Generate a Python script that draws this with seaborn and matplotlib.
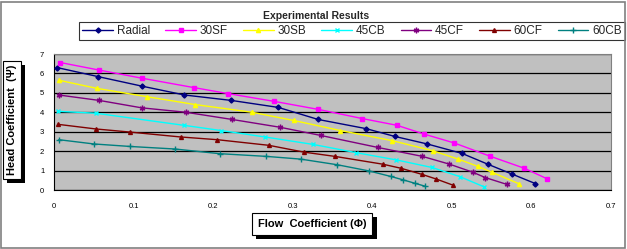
import matplotlib
matplotlib.use("Agg")
import matplotlib.pyplot as plt
import matplotlib.patheffects as pe
import seaborn as sns
import pandas as pd
from matplotlib.patches import Rectangle

# ---- data ----
series_names = ["Radial", "30SF", "30SB", "45CB", "45CF", "60CF", "60CB"]
radial_x = [0.004, 0.055, 0.11, 0.164, 0.223, 0.282, 0.332, 0.392, 0.428, 0.469, 0.513, 0.545, 0.575, 0.605]
radial_y = [6.3, 5.84, 5.35, 4.89, 4.61, 4.25, 3.63, 3.16, 2.76, 2.37, 1.88, 1.33, 0.83, 0.33]
sf30_x = [0.008, 0.057, 0.111, 0.176, 0.219, 0.277, 0.332, 0.387, 0.431, 0.465, 0.503, 0.548, 0.591, 0.619]
sf30_y = [6.56, 6.17, 5.75, 5.27, 4.96, 4.56, 4.15, 3.68, 3.33, 2.88, 2.42, 1.74, 1.12, 0.59]
sb30_x = [0.006, 0.054, 0.117, 0.177, 0.249, 0.301, 0.36, 0.425, 0.476, 0.508, 0.533, 0.55, 0.585]
sb30_y = [5.65, 5.23, 4.8, 4.4, 4.0, 3.58, 3.06, 2.54, 2.02, 1.59, 1.21, 0.92, 0.31]
cb45_x = [0.005, 0.053, 0.163, 0.21, 0.265, 0.325, 0.38, 0.43, 0.475, 0.51, 0.54]
cb45_y = [4.05, 3.95, 3.33, 3.06, 2.73, 2.35, 1.92, 1.55, 1.16, 0.69, 0.17]
cf45_x = [0.006, 0.057, 0.11, 0.166, 0.224, 0.284, 0.335, 0.407, 0.463, 0.497, 0.526, 0.542, 0.569]
cf45_y = [4.89, 4.61, 4.23, 4.0, 3.63, 3.23, 2.81, 2.19, 1.73, 1.33, 0.92, 0.64, 0.29]
cf60_x = [0.005, 0.053, 0.096, 0.159, 0.205, 0.27, 0.314, 0.353, 0.413, 0.436, 0.462, 0.48, 0.502]
cf60_y = [3.38, 3.14, 2.98, 2.73, 2.59, 2.3, 1.95, 1.73, 1.33, 1.12, 0.81, 0.57, 0.24]
cb60_x = [0.006, 0.05, 0.096, 0.152, 0.208, 0.267, 0.31, 0.356, 0.396, 0.423, 0.439, 0.454, 0.466]
cb60_y = [2.59, 2.37, 2.24, 2.11, 1.87, 1.73, 1.59, 1.3, 0.98, 0.7, 0.52, 0.34, 0.2]
x_ticks = [0, 0.1, 0.2, 0.3, 0.4, 0.5, 0.6, 0.7]
x_tick_labels = ["0", "0.1", "0.2", "0.3", "0.4", "0.5", "0.6", "0.7"]
y_ticks = [0, 1, 2, 3, 4, 5, 6, 7]

all_x = [radial_x, sf30_x, sb30_x, cb45_x, cf45_x, cf60_x, cb60_x]
all_y = [radial_y, sf30_y, sb30_y, cb45_y, cf45_y, cf60_y, cb60_y]
colors = ["#000080", "#FF00FF", "#FFFF00", "#00FFFF", "#800080", "#800000", "#008080"]
markers = ["D", "s", "^", "x", (6, 2, 0), "^", "+"]
msizes = [2.6, 3.0, 3.0, 3.5, 4.0, 2.8, 4.0]

sns.set_style("white")
plt.rcParams['font.family'] = ['Liberation Sans', 'DejaVu Sans']

fig = plt.figure(figsize=(6.27, 2.49), dpi=100)
W, H = 627, 249
ax = fig.add_axes([54 / W, 1 - 190 / H, (611 - 54) / W, (190 - 54) / H])
ax.set_facecolor("#C0C0C0")

for name, xs, ys, c, m, ms in zip(series_names, all_x, all_y, colors, markers, msizes):
    df = pd.DataFrame({"x": xs, "y": ys})
    sns.lineplot(data=df, x="x", y="y", ax=ax, color=c, marker=m, markersize=ms,
                 markeredgecolor=c, markeredgewidth=1.0, linewidth=1.0,
                 sort=False, estimator=None, label=name, zorder=3)

ax.set_xlim(0, 0.7)
ax.set_ylim(0, 7)
ax.set_xticks(x_ticks)
ax.set_xticklabels(x_tick_labels)
ax.set_yticks(y_ticks)
ax.yaxis.grid(True, color="black", linewidth=0.9, zorder=1)
ax.xaxis.grid(False)
ax.set_axisbelow(True)
ax.tick_params(axis="both", labelsize=5.5, length=3, width=0.6, direction="out",
               colors="black", pad=4)
ax.tick_params(axis="x", pad=6)
ax.set_xlabel("")
ax.set_ylabel("")
for s in ["left", "bottom"]:
    ax.spines[s].set_color("black")
    ax.spines[s].set_linewidth(0.8)
for s in ["top", "right"]:
    ax.spines[s].set_color("#808080")
    ax.spines[s].set_linewidth(0.8)

leg = ax.legend(loc="center", bbox_to_anchor=((80 + 624) / 2 / W, 1 - 31 / H),
                bbox_transform=fig.transFigure, ncol=7, frameon=True, fontsize=8.5,
                handlelength=2.6, handletextpad=0.3, columnspacing=1.3,
                borderpad=0.25, fancybox=False)
leg.get_frame().set_edgecolor("black")
leg.get_frame().set_linewidth(0.8)

fig.text(316 / W, 1 - 16 / H, "Experimental Results", ha="center", va="center",
         fontsize=7.5, fontweight="bold")

shadow = [pe.withSimplePatchShadow(offset=(3, -3), shadow_rgbFace="black", alpha=1.0)]

t1 = fig.text(312 / W, 1 - 224 / H, "Flow  Coefficient (Φ)", ha="center", va="center",
              fontsize=8, fontweight="bold", color="black",
              bbox=dict(boxstyle="square,pad=0.55", facecolor="white", edgecolor="black", linewidth=0.8))
t1.get_bbox_patch().set_path_effects(shadow)

t2 = fig.text(12 / W, 1 - 120 / H, "Head Coefficient  (Ψ)", ha="center", va="center",
              rotation=90, fontsize=8, fontweight="bold", color="black",
              bbox=dict(boxstyle="square,pad=0.35", facecolor="white", edgecolor="black", linewidth=0.8))
t2.get_bbox_patch().set_path_effects(shadow)

fig.patches.append(Rectangle((1 / W, 1 / H), (W - 3) / W, (H - 3) / H, transform=fig.transFigure,
                             fill=False, edgecolor="#808080", linewidth=1.2))

fig.savefig("out.png", dpi=100)
